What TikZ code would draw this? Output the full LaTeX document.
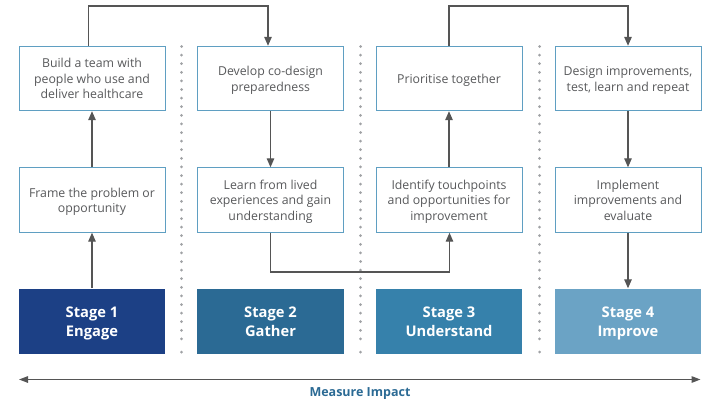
\documentclass[tikz,border=0pt]{standalone}
\usepackage{fontspec}
\setmainfont{Open Sans}
\usetikzlibrary{arrows.meta}
\definecolor{boxline}{HTML}{5F9FC2}
\definecolor{inktext}{HTML}{58595B}
\definecolor{arrowink}{HTML}{555555}
\definecolor{dotgrey}{HTML}{A0A2A5}
\definecolor{stageA}{HTML}{1C4085}
\definecolor{stageB}{HTML}{2B6A94}
\definecolor{stageC}{HTML}{3681AB}
\definecolor{stageD}{HTML}{6BA3C5}
\newcommand{\bodyline}{\rule[-3pt]{0pt}{15.5pt}}
\newcommand{\stageline}{\rule[-4pt]{0pt}{19pt}}
\tikzset{
  x=1pt,y=-1pt,
  stepbox/.style={draw=boxline,line width=0.9pt,fill=white,minimum width=146pt,minimum height=64.5pt,inner sep=0pt,align=center,text=inktext,font=\fontsize{12.3}{15.5}\selectfont},
  stagebox/.style={minimum width=146.5pt,minimum height=65pt,inner sep=0pt,align=center,text=white,font=\fontsize{14.7}{19}\selectfont\bfseries},
  link/.style={draw=arrowink,line width=1.3pt,-{Triangle[length=9pt,width=7.5pt]}},
}
\begin{document}
\begin{tikzpicture}
\useasboundingbox (0,0) rectangle (706,399);
% separators
\foreach \sx in {181.5,360.5,539.5}{
  \foreach \sn in {0,...,34}{
    \fill[dotgrey] (\sx,46.5+8.6*\sn) circle[radius=1.5pt];
  }
  \fill[dotgrey] (\sx,352) circle[radius=1.5pt];
}
% top row
\node[stepbox] (a1) at (92,78.5) {\bodyline Build a team with\\people who use and\\deliver healthcare\bodyline};
\node[stepbox] (a2) at (270.5,78.5) {\bodyline Develop co-design\\preparedness\bodyline};
\node[stepbox] (a3) at (449,78.5) {\bodyline Prioritise together\bodyline};
\node[stepbox] (a4) at (628,78.5) {\bodyline Design improvements,\\test, learn and repeat\bodyline};
% middle row
\node[stepbox] (b1) at (92,200) {\bodyline Frame the problem or\\opportunity\bodyline};
\node[stepbox] (b2) at (270.5,200) {\bodyline Learn from lived\\experiences and gain\\understanding\bodyline};
\node[stepbox] (b3) at (449,200) {\bodyline Identify touchpoints\\and opportunities for\\improvement\bodyline};
\node[stepbox] (b4) at (628,200) {\bodyline Implement\\improvements and\\evaluate\bodyline};
% stages
\node[stagebox,fill=stageA] (c1) at (92,321) {\stageline Stage 1\\Engage\stageline};
\node[stagebox,fill=stageB] (c2) at (270.5,321) {\stageline Stage 2\\Gather\stageline};
\node[stagebox,fill=stageC] (c3) at (449,321) {\stageline Stage 3\\Understand\stageline};
\node[stagebox,fill=stageD] (c4) at (628,321) {\stageline Stage 4\\Improve\stageline};
% connectors
\coordinate (t1) at (88.7,6); \coordinate (t2) at (268,6);
\coordinate (t3) at (449,6); \coordinate (t4) at (628,6);
\coordinate (u1) at (270.5,272); \coordinate (u2) at (449.5,272);
\draw[link] (c1.north) -- (b1.south);
\draw[link] (b1.north) -- (a1.south);
\draw[link] (a1.north -| t1) -- (t1) -- (t2) -- (a2.north -| t2);
\draw[link] (a2.south) -- (b2.north);
\draw[link] (b2.south) -- (u1) -- (u2) -- (b3.south -| u2);
\draw[link] (b3.north) -- (a3.south);
\draw[link] (a3.north -| t3) -- (t3) -- (t4) -- (a4.north -| t4);
\draw[link] (a4.south) -- (b4.north);
\draw[link] (b4.south) -- (c4.north);
% measure impact
\coordinate (m1) at (19,379.5); \coordinate (m2) at (700.5,379.5);
\draw[draw=arrowink,line width=1.3pt,{Triangle[length=9pt,width=6.5pt]}-{Triangle[length=9pt,width=6.5pt]}] (m1) -- (m2);
\node[text=stageB,font=\fontsize{12.5}{15}\selectfont\bfseries,inner sep=0pt] (mi) at (360,394) {Measure Impact};
\end{tikzpicture}
\end{document}
